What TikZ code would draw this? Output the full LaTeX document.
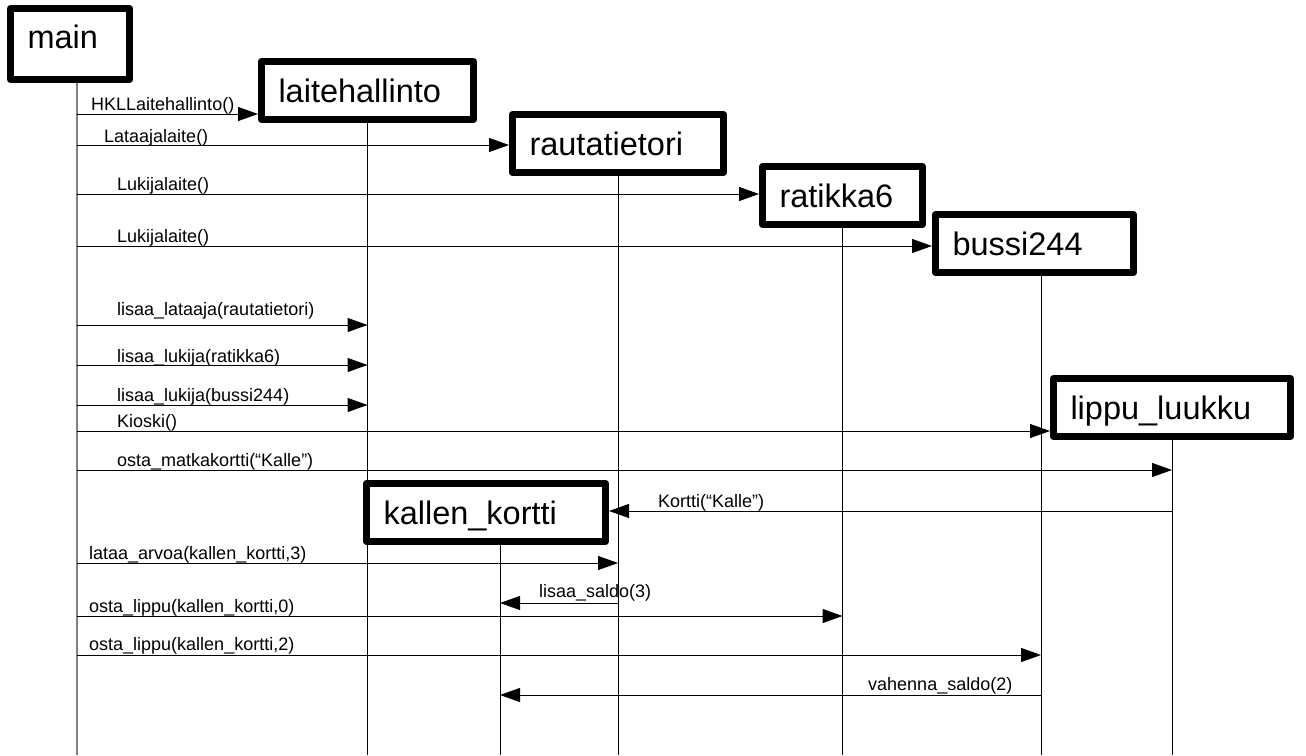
\documentclass[tikz,border=0pt]{standalone}
\usepackage{fontspec}
\setmainfont{Liberation Sans}
\usepackage{tikz}
\usetikzlibrary{arrows.meta}

\begin{document}
\begin{tikzpicture}[x=1pt, y=-1pt]

\tikzstyle{obj} = [rectangle, draw=black, line width=7pt, line join=round, anchor=north west, inner xsep=17pt, inner ysep=0pt, align=left, text height=23pt, text depth=0pt, minimum height=58pt, font=\fontsize{32.5}{36}\selectfont]
\tikzstyle{life} = [line width=1pt, draw=black]
\tikzstyle{arrow} = [line width=1pt, -{Triangle[length=20pt,width=14pt]}]
\tikzstyle{lbl} = [anchor=base west, inner sep=0pt, font=\fontsize{18}{20}\selectfont]

\useasboundingbox (0,0) rectangle (1306,755);

\node (main) [obj, text width=85pt, minimum height=71pt, text depth=15pt] at (7,5) {main};
\node (laite) [obj, text width=178pt] at (258,58) {laitehallinto};
\node (rauta) [obj, text width=177pt] at (509,111) {rautatietori};
\node (ratikka) [obj, text width=126pt] at (759,163) {ratikka6};
\node (bussi) [obj, text width=164pt] at (932,211) {bussi244};
\node (lippu) [obj, text width=203pt] at (1050,375) {lippu\_luukku};
\node (kortti) [obj, text width=205pt] at (363,480) {kallen\_kortti};

% elinviivat
\coordinate (bot) at (0,755);
\coordinate (Lmain) at ([xshift=7pt]main.south);
\coordinate (Llaite) at (laite.south);
\coordinate (Lrauta) at (rauta.south);
\coordinate (Lratikka) at (ratikka.south);
\coordinate (Lbussi) at ([xshift=6.5pt]bussi.south);
\coordinate (Llippu) at (lippu.south);
\coordinate (Lkortti) at ([xshift=14pt]kortti.south);

\draw [life, draw=gray, line width=1.5pt] (Lmain) -- (Lmain |- bot);
\draw [life] (Llaite) -- (Llaite |- bot);
\draw [life] (Lrauta) -- (Lrauta |- bot);
\draw [life] (Lratikka) -- (Lratikka |- bot);
\draw [life] (Lbussi) -- (Lbussi |- bot);
\draw [life] (Llippu) -- (Llippu |- bot);
\draw [life] (Lkortti) -- (Lkortti |- bot);

% viestit
\draw [arrow] (Lmain |- 0,114) -- (laite.west |- 0,114);
\draw [arrow] (Lmain |- 0,145) -- (rauta.west |- 0,145);
\draw [arrow] (Lmain |- 0,194) -- (ratikka.west |- 0,194);
\draw [arrow] (Lmain |- 0,246) -- (bussi.west |- 0,246);
\draw [arrow] (Lmain |- 0,325) -- (Llaite |- 0,325);
\draw [arrow] (Lmain |- 0,365) -- (Llaite |- 0,365);
\draw [arrow] (Lmain |- 0,405) -- (Llaite |- 0,405);
\draw [arrow] (Lmain |- 0,431) -- (lippu.west |- 0,431);
\draw [arrow] (Lmain |- 0,470) -- (Llippu |- 0,470);
\draw [arrow] (Llippu |- 0,511) -- (kortti.east |- 0,511);
\draw [arrow] (Lmain |- 0,563) -- (Lrauta |- 0,563);
\draw [arrow] (Lrauta |- 0,603) -- (Lkortti |- 0,603);
\draw [arrow] (Lmain |- 0,616) -- (Lratikka |- 0,616);
\draw [arrow] (Lmain |- 0,655) -- (Lbussi |- 0,655);
\draw [arrow] (Lbussi |- 0,695) -- (Lkortti |- 0,695);

\node (t1) [lbl] at (91,110) {HKLLaitehallinto()};
\node (t2) [lbl] at (104,142) {Lataajalaite()};
\node (t3) [lbl] at (117,190) {Lukijalaite()};
\node (t4) [lbl] at (117,242) {Lukijalaite()};
\node (t5) [lbl] at (117,315) {lisaa\_lataaja(rautatietori)};
\node (t6) [lbl] at (117,362) {lisaa\_lukija(ratikka6)};
\node (t7) [lbl] at (117,401) {lisaa\_lukija(bussi244)};
\node (t8) [lbl] at (117,427) {Kioski()};
\node (t9) [lbl] at (117,466) {osta\_matkakortti(“Kalle”)};
\node (t10) [lbl] at (658,507) {Kortti(“Kalle”)};
\node (t11) [lbl] at (89,559) {lataa\_arvoa(kallen\_kortti,3)};
\node (t12) [lbl] at (539,597) {lisaa\_saldo(3)};
\node (t13) [lbl] at (89,612) {osta\_lippu(kallen\_kortti,0)};
\node (t14) [lbl] at (89,650) {osta\_lippu(kallen\_kortti,2)};
\node (t15) [lbl] at (868,690) {vahenna\_saldo(2)};
\end{tikzpicture}
\end{document}
